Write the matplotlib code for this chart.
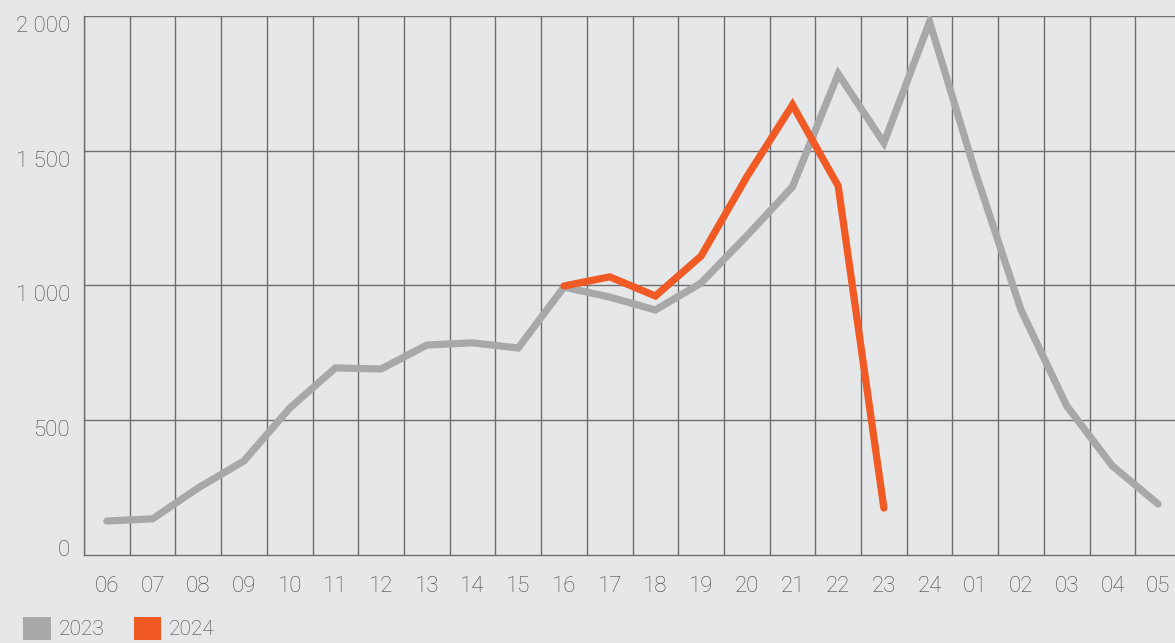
import matplotlib.pyplot as plt
from matplotlib.patches import Patch
from matplotlib.transforms import ScaledTranslation
import numpy as np

# weeks shown on the x axis
weeks = ['06', '07', '08', '09', '10', '11', '12', '13', '14', '15', '16', '17',
         '18', '19', '20', '21', '22', '23', '24', '01', '02', '03', '04', '05']

# 2023 season, every week
vals_2023 = [126, 134, 249, 349, 545, 694, 690, 779, 787, 768, 994, 957,
             909, 1009, 1184, 1366, 1785, 1529, 1978, 1421, 909, 553, 330, 189]

# 2024 season, from week 16 on
start_2024 = 10
vals_2024 = [998, 1032, 961, 1109, 1403, 1670, 1369, 174]

bg = '#e6e7e8'
grid_col = '#6d6e70'
txt_col = '#45464a'
gray = '#a7a8aa'
orange = '#f15a24'

plt.rcParams['font.family'] = ['Roboto', 'DejaVu Sans']

fig = plt.figure(figsize=(11.75, 6.43), dpi=100, facecolor=bg)
ax = fig.add_axes([0.0715, 0.1369, 0.9336, 0.8383])
ax.set_facecolor(bg)

x = np.arange(len(weeks))
ax.plot(x, vals_2023, color=gray, lw=5.2, solid_capstyle='round',
        solid_joinstyle='miter', zorder=3)
x24 = np.arange(start_2024, start_2024 + len(vals_2024))
ax.plot(x24, vals_2024, color=orange, lw=5.2, solid_capstyle='round',
        solid_joinstyle='miter', zorder=4)

ax.set_xlim(-0.5, len(weeks) - 0.5)
ax.set_ylim(0, 2000)

# vertical lines sit on the week boundaries
for b in np.arange(-0.5, len(weeks), 1.0):
    ax.axvline(b, color=grid_col, lw=1.0, zorder=1)
for yv in [500, 1000, 1500, 2000]:
    ax.axhline(yv, color=grid_col, lw=1.0, zorder=1)

for s in ['top', 'right']:
    ax.spines[s].set_visible(False)
ax.spines['left'].set_color(grid_col)
ax.spines['bottom'].set_color(grid_col)
ax.spines['left'].set_linewidth(1.0)
ax.spines['bottom'].set_linewidth(1.0)

ax.set_xticks(x)
ax.set_xticklabels(weeks)
ax.set_yticks([0, 500, 1000, 1500, 2000])
ax.set_yticklabels(['0', '500', '1 000', '1 500', '2 000'])
ax.tick_params(axis='both', length=0, colors=txt_col, labelsize=16)
ax.tick_params(axis='x', pad=15)
ax.tick_params(axis='y', pad=10)
for lab in ax.get_xticklabels() + ax.get_yticklabels():
    lab.set_fontweight('light')

# y labels hang a little below their lines, the zero sits above the axis
for lab, val in zip(ax.get_yticklabels(), [0, 500, 1000, 1500, 2000]):
    dy = 7 if val == 0 else -8
    lab.set_transform(lab.get_transform() + ScaledTranslation(0, dy / 100, fig.dpi_scale_trans))

handles = [Patch(facecolor=gray, edgecolor='none', label='2023'),
           Patch(facecolor=orange, edgecolor='none', label='2024')]
fig.legend(handles=handles, loc='lower left', bbox_to_anchor=(0.004, -0.024),
           ncol=2, frameon=False, handlelength=1.3, handleheight=1.3,
           handletextpad=0.4, columnspacing=1.4,
           prop={'size': 15, 'weight': 'light'}, labelcolor=txt_col)

fig.savefig('out.png', dpi=100, facecolor=bg)
